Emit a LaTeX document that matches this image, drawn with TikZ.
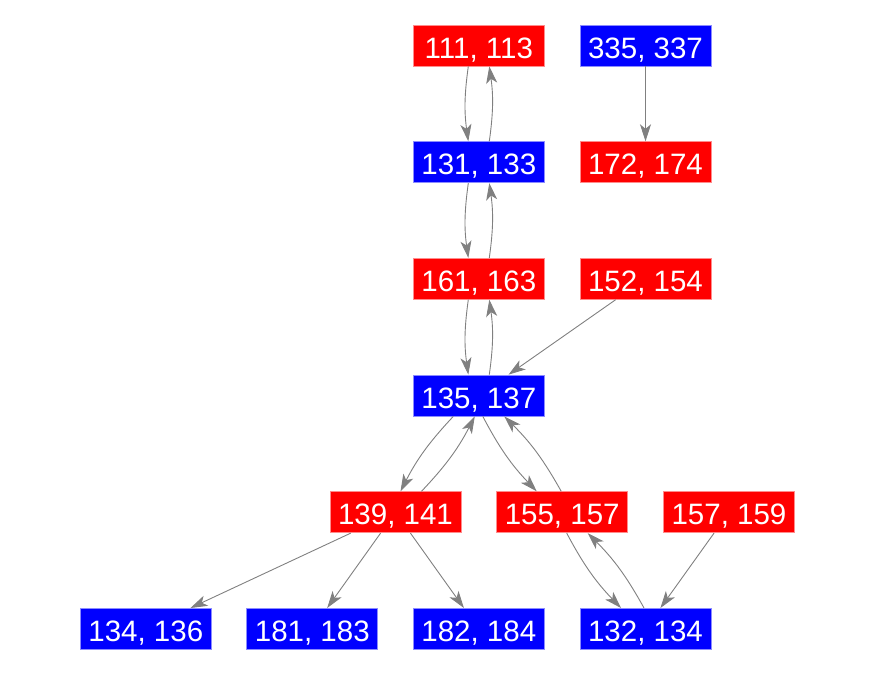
\documentclass[tikz,border=0pt]{standalone}
\usepackage{fontspec}
\setmainfont{Liberation Sans}
\usetikzlibrary{arrows.meta}
\definecolor{edgegray}{RGB}{128,128,128}
\begin{document}
\begin{tikzpicture}[x=1pt,y=-1pt,
 vbox/.style={minimum width=131pt,minimum height=41pt,inner sep=0pt,text height=25pt,text depth=0pt,text=white,font=\fontsize{29.5}{32}\selectfont,line width=0.8pt},
 rbox/.style={vbox,fill=red,draw=red!45!white},
 bbox/.style={vbox,fill=blue,draw=blue!45!white},
 conn/.style={draw=edgegray,line width=0.9pt,-{Stealth[length=17pt,width=11pt,inset=4.5pt]}},
 curv/.style={conn,bend right=8}]
\useasboundingbox (0,0) rectangle (875,675);
\node[rbox] (a111) at (478.8,45.5) {111, 113};
\node[bbox] (a335) at (645.5,45.5) {335, 337};
\node[bbox] (a131) at (478.8,162.2) {131, 133};
\node[rbox] (a172) at (645.5,162.2) {172, 174};
\node[rbox] (a161) at (478.8,278.8) {161, 163};
\node[rbox] (a152) at (645.5,278.8) {152, 154};
\node[bbox] (a135) at (478.8,395.5) {135, 137};
\node[rbox] (a139) at (395.5,512.2) {139, 141};
\node[rbox] (a155) at (562.2,512.2) {155, 157};
\node[rbox] (a157) at (729,512.2) {157, 159};
\node[bbox] (b134) at (145.8,628.9) {134, 136};
\node[bbox] (b181) at (312.3,628.9) {181, 183};
\node[bbox] (b182) at (478.8,628.9) {182, 184};
\node[bbox] (b132) at (645.5,628.9) {132, 134};
% vertical pairs
\draw[curv] ([xshift=-10.5pt]a111.south) to ([xshift=-10.5pt]a131.north);
\draw[curv] ([xshift=10.5pt]a131.north) to ([xshift=10.5pt]a111.south);
\draw[curv] ([xshift=-10.5pt]a131.south) to ([xshift=-10.5pt]a161.north);
\draw[curv] ([xshift=10.5pt]a161.north) to ([xshift=10.5pt]a131.south);
\draw[curv] ([xshift=-10.5pt]a161.south) to ([xshift=-10.5pt]a135.north);
\draw[curv] ([xshift=10.5pt]a135.north) to ([xshift=10.5pt]a161.south);
% diagonal pairs
\draw[curv] ([xshift=-25.5pt]a135.south) to ([xshift=5pt]a139.north);
\draw[curv] ([xshift=26pt]a139.north) to ([xshift=-4pt]a135.south);
\draw[curv] ([xshift=4pt]a135.south) to ([xshift=-25.5pt]a155.north);
\draw[curv] ([xshift=-1pt]a155.north) to ([xshift=25.5pt]a135.south);
\draw[curv] ([xshift=4.5pt]a155.south) to ([xshift=-24.5pt]b132.north);
\draw[curv] ([xshift=-1.5pt]b132.north) to ([xshift=25.5pt]a155.south);
% straight edges
\draw[conn] (a335) -- (a172);
\draw[conn] (a152) -- (a135);
\draw[conn] (a157) -- (b132);
\draw[conn] (a139) -- (b134);
\draw[conn] (a139) -- (b181);
\draw[conn] (a139) -- (b182);
\end{tikzpicture}
\end{document}
